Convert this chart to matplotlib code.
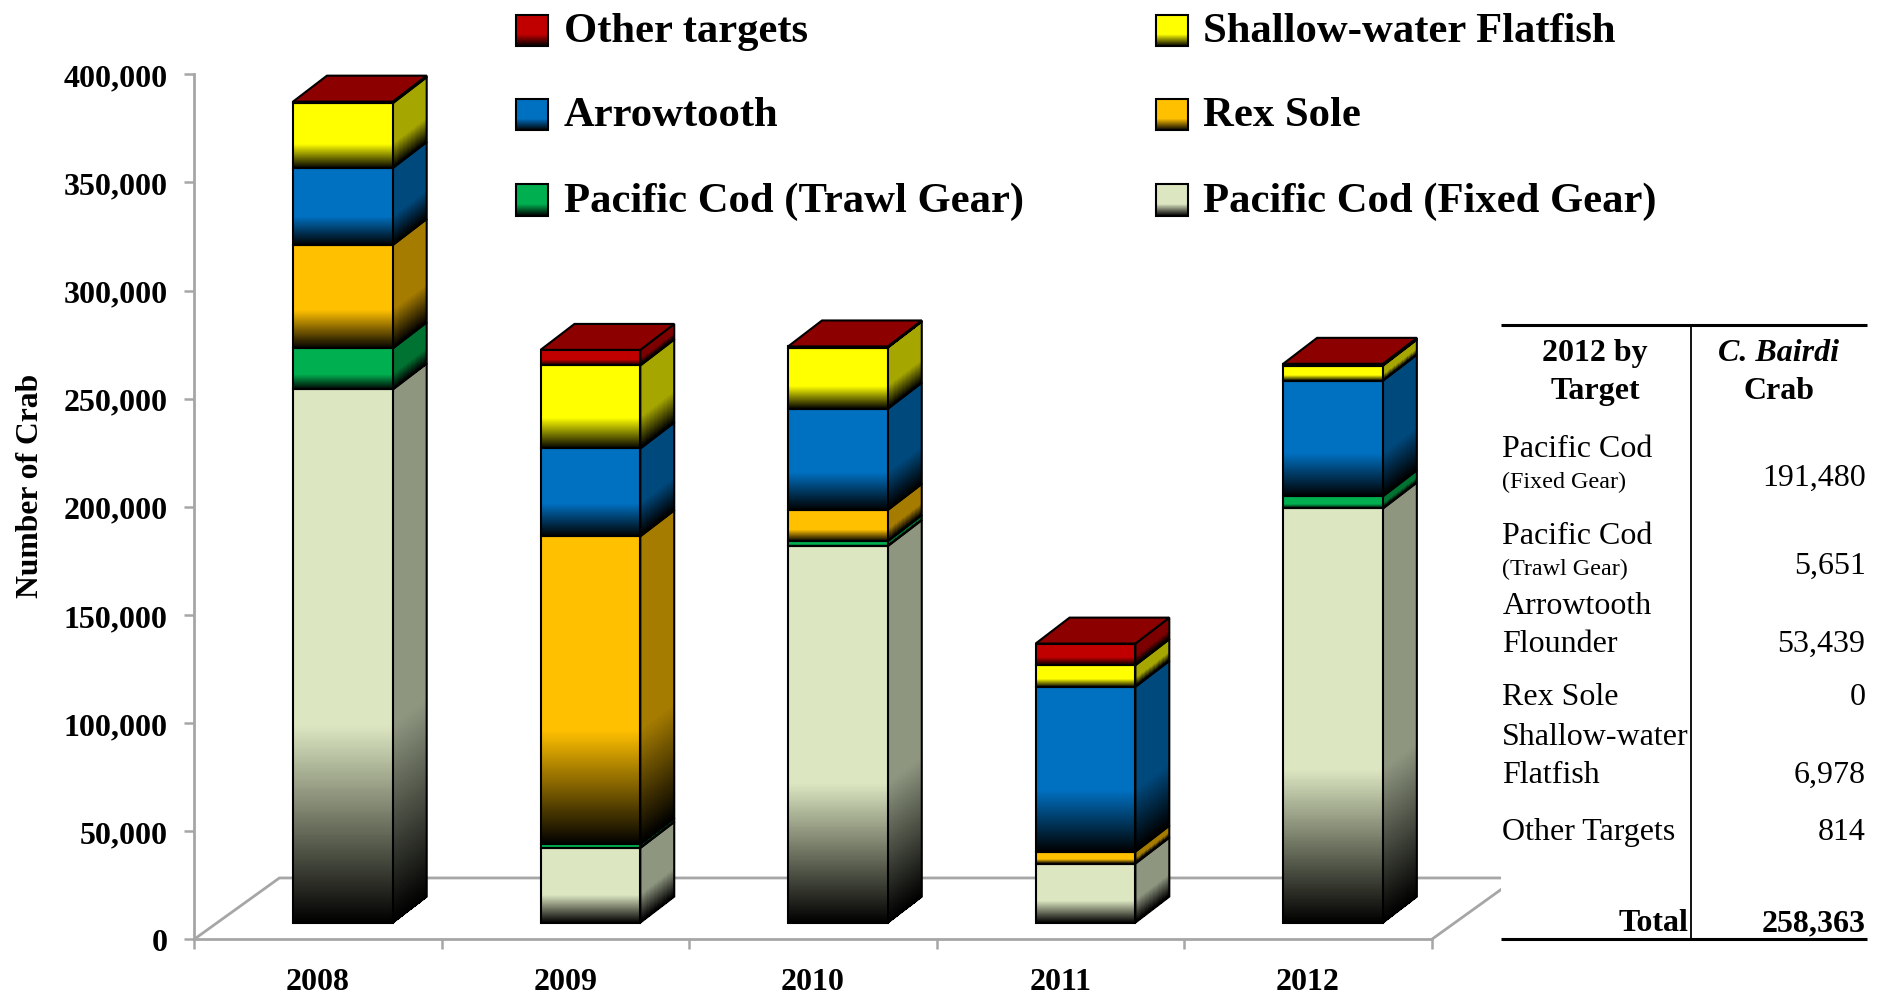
import numpy as np
import matplotlib
matplotlib.use("Agg")
import matplotlib.pyplot as plt
from matplotlib.patches import Polygon, Rectangle
from matplotlib.ticker import FuncFormatter

# ---------- data ----------
years = ["2008", "2009", "2010", "2011", "2012"]
fixed_gear = [246500, 34500, 174100, 27300, 191480]
trawl_gear = [19000, 1700, 2300, 0, 5651]
rex_sole = [47800, 142400, 14400, 5500, 0]
arrowtooth = [35600, 40600, 46800, 76200, 53439]
shallow_flat = [30000, 38400, 28300, 10000, 6978]
other_targets = [700, 7200, 500, 10000, 814]

series_names = ["Pacific Cod (Fixed Gear)", "Pacific Cod (Trawl Gear)", "Rex Sole",
                "Arrowtooth", "Shallow-water Flatfish", "Other targets"]
series_values = [fixed_gear, trawl_gear, rex_sole, arrowtooth, shallow_flat, other_targets]
face_colors = ["#DCE6C1", "#00B050", "#FFC000", "#0070C0", "#FFFF00", "#C00000"]
side_colors = ["#8E9680", "#007332", "#A67C00", "#00497D", "#A6A600", "#7D0000"]
top_color = "#8C0000"

table_rows = ["Pacific Cod", "(Fixed Gear)", "Pacific Cod", "(Trawl Gear)", "Arrowtooth", "Flounder",
              "Rex Sole", "Shallow-water", "Flatfish", "Other Targets"]
table_values = ["191,480", "5,651", "53,439", "0", "6,978", "814"]
table_total = "258,363"
y_ticks = [0, 50000, 100000, 150000, 200000, 250000, 300000, 350000, 400000]

# ---------- style ----------
SERIF = "Liberation Serif"
GREY = "#A6A6A6"
W, H = 1568, 827
LW = 1.5
bar_left, bar_right = -0.100, 0.303
depth_x, depth_y = 0.137, 12000
base = 7780
fade_start = 0.63
DY = 2.7  # text nudge in picture units


def rgb(c):
    return np.array(matplotlib.colors.to_rgb(c))


def fade_rows(color, n):
    """Colours from top of a face to its bottom: flat, then fading to black."""
    t = (np.arange(n) + 0.5) / n
    k = np.clip((1 - t) / (1 - fade_start), 0, 1)
    return k[:, None] * rgb(color)[None, :]


def shaded_face(axis, x0, x1, y_top0, y_bot0, y_top1, y_bot1, color, z):
    n = 300
    f = np.linspace(0, 1, n + 1)
    X = np.column_stack([np.full(n + 1, x0), np.full(n + 1, x1)])
    Y = np.column_stack([y_top0 + (y_bot0 - y_top0) * f, y_top1 + (y_bot1 - y_top1) * f])
    C = fade_rows(color, n)[:, None, :]
    axis.pcolormesh(X, Y, C, shading="flat", antialiased=False, zorder=z, clip_on=False)
    axis.add_patch(Polygon([(x0, y_top0), (x1, y_top1), (x1, y_bot1), (x0, y_bot0)], closed=True, fill=False,
                           ec="black", lw=LW, zorder=z + 0.5, clip_on=False, joinstyle="miter"))


fig = plt.figure(figsize=(18.86, 9.95), dpi=100, facecolor="white")
ax = fig.add_axes([161.3 / W, (H - 781.6) / H, (1190 - 161) / W, (781 - 62) / H])
ax.set_xlim(-0.5, 4.5)
ax.set_ylim(0, 400000)

for s in ("top", "right"):
    ax.spines[s].set_visible(False)
for s in ("left", "bottom"):
    ax.spines[s].set_color(GREY)
    ax.spines[s].set_linewidth(2.0)

ax.set_yticks(y_ticks)
ax.yaxis.set_major_formatter(FuncFormatter(lambda v, p: f"{int(v):,}"))
ax.tick_params(axis="y", length=7, width=1.8, color=GREY, pad=12, labelsize=23)
ax.set_xticks(np.arange(-0.5, 5, 1))
ax.set_xticklabels([""] * 6)
ax.set_xticks(np.arange(5), minor=True)
ax.set_xticklabels(years, minor=True, fontsize=23, fontweight="bold", family=SERIF)
ax.tick_params(axis="x", which="major", length=7, width=1.8, color=GREY)
ax.tick_params(axis="x", which="minor", length=0, pad=20)
for t in ax.get_yticklabels():
    t.set_fontfamily(SERIF)
    t.set_fontweight("bold")
ax.patch.set_alpha(0)

# floor of the 3D plot
fx, fy = 0.345, 28400
ax.plot([-0.5, -0.5 + fx, 4.5 + fx, 4.5], [0, fy, fy, 0], color=GREY, lw=2.0, zorder=1, clip_on=False)

# bars
for i in range(len(years)):
    bottom = 0
    vals = [sv[i] for sv in series_values]
    for j, v in enumerate(vals):
        if v <= 0:
            continue
        y0 = base + bottom
        y1 = y0 + v
        x0, x1 = i + bar_left, i + bar_right
        shaded_face(ax, x1, x1 + depth_x, y1, y0, y1 + depth_y, y0 + depth_y, side_colors[j], 3 + j * 0.01)
        shaded_face(ax, x0, x1, y1, y0, y1, y0, face_colors[j], 4 + j * 0.01)
        bottom += v
    ytop = base + bottom
    ax.add_patch(Polygon([(i + bar_left, ytop), (i + bar_right, ytop), (i + bar_right + depth_x, ytop + depth_y),
                          (i + bar_left + depth_x, ytop + depth_y)], closed=True, fc=top_color, ec="black",
                         lw=LW, zorder=5, clip_on=False))

# overlay in picture coordinates for legend, table and axis title
ov = fig.add_axes([0, 0, 1, 1], zorder=5)
ov.set_xlim(0, W)
ov.set_ylim(H, 0)
ov.axis("off")
ov.patch.set_alpha(0)

ov.add_patch(Rectangle((1248, 262), 320, 540, fc="white", ec="none", zorder=0))
ov.text(25, 404, "Number of Crab", rotation=90, ha="center", va="center", fontsize=22.8,
        fontweight="bold", family=SERIF)

legend_layout = [(5, 429, 26), (4, 961, 26), (3, 429, 96), (2, 961, 96), (1, 429, 167), (0, 961, 167)]
for idx, lx, ly in legend_layout:
    shaded_face(ov, lx, lx + 27, ly - 13, ly + 13, ly - 13, ly + 13, face_colors[idx], 3)
    ov.text(lx + 39.5, ly - 2 + DY, series_names[idx], ha="left", va="center", fontsize=30.7,
            fontweight="bold", family=SERIF)

# table
ov.plot([1248, 1552], [271, 271], color="black", lw=2.2, solid_capstyle="butt")
ov.plot([1248, 1552], [781, 781], color="black", lw=2.2, solid_capstyle="butt")
ov.plot([1406, 1406], [271, 781], color="black", lw=1.3, solid_capstyle="butt")

tb = dict(family=SERIF, va="center", fontsize=23)
ov.text(1326, 291 + DY, "2012 by", ha="center", fontweight="bold", **tb)
ov.text(1326, 323 + DY, "Target", ha="center", fontweight="bold", **tb)
ov.text(1479, 291 + DY, "C. Bairdi", ha="center", fontweight="bold", style="italic", **tb)
ov.text(1479, 323 + DY, "Crab", ha="center", fontweight="bold", **tb)

row_y = [371, 398, 443, 471, 501, 533, 577, 610, 642, 689]
for name, ry in zip(table_rows, row_y):
    small = name.startswith("(")
    ov.text(1249, ry + DY, name, ha="left", va="center", family=SERIF, fontsize=17.4 if small else 23)
value_y = [395, 468, 533, 577, 642, 689]
for val, ry in zip(table_values, value_y):
    ov.text(1551, ry + DY, val, ha="right", **tb)
ov.text(1404, 765 + DY, "Total", ha="right", fontweight="bold", **tb)
ov.text(1551, 765 + DY, table_total, ha="right", fontweight="bold", **tb)

ax.set_xlim(-0.5, 4.5)
ax.set_ylim(0, 400000)
fig.savefig("out.png", dpi=100, facecolor="white")
